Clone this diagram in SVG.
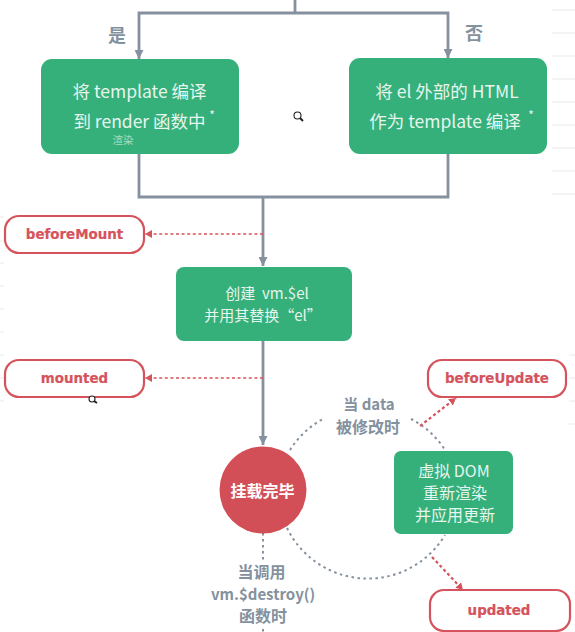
<svg xmlns="http://www.w3.org/2000/svg" width="575" height="632" viewBox="0 0 575 632">
<style>
text{font-family:"Noto Sans CJK SC","Noto Sans",sans-serif;text-anchor:middle}
.g{fill:#35b07a}
.gt{fill:#e6f5ee;font-size:17.500px}
.gm{fill:#e6f5ee;font-size:15px}
.gs{fill:#e6f5ee;font-size:16px}
.r{fill:#fff;stroke:#d5535c;stroke-width:2.2}
.rt{fill:#d5535c;font-family:"DejaVu Sans",sans-serif;font-weight:700;font-size:13.400px;stroke:#d5535c;stroke-width:.2}
.l{fill:#84919e;font-weight:700;font-size:15px}
.lc{fill:#84919e;font-weight:700;font-size:16px}
.c{fill:none;stroke:#85919e;stroke-width:2.800}
.d{fill:none;stroke:#85919e;stroke-width:2;stroke-dasharray:2.500 3.500}
.rd{fill:none;stroke:#d5535c;stroke-width:1.400;stroke-dasharray:3 2.600}
.rd2{fill:none;stroke:#d5535c;stroke-width:2.200;stroke-dasharray:3 2.600}
.grid{stroke:#e9e9e9;stroke-width:1}
.ic{fill:#fff;stroke:#222;stroke-width:1.100}
</style>
<defs>
<marker id="ag" markerUnits="userSpaceOnUse" markerWidth="10" markerHeight="9" refX="9" refY="4.500" orient="auto"><path d="M0 0L9 4.500L0 9z" fill="#85919e"/></marker>
<marker id="ar" markerUnits="userSpaceOnUse" markerWidth="8" markerHeight="8" refX="7" refY="4" orient="auto"><path d="M0 0L7 4L0 8z" fill="#d5535c"/></marker>
</defs>
<g id="grid" class="grid">
<path d="M552 10H575M552 33H575M552 56H575M552 79H575M552 102H575M552 125H575M552 148H575M552 171H575M552 194H575M0 217H4M0 241H4M0 263H4M0 286H4M0 309H4M0 332H4M0 355H4M0 378H4M0 401H4M569 355H575M569 378H575M569 401H575M569 424H575"/>
</g>
<g id="connectors">
<path class="c" d="M295 0V13"/>
<path class="c" d="M295 13H139V59" marker-end="url(#ag)"/>
<path class="c" d="M295 13H448V58" marker-end="url(#ag)"/>
<path class="c" d="M139 154V197H448V154"/>
<path class="c" d="M263 197V266" marker-end="url(#ag)"/>
<path class="c" d="M263 341V445" marker-end="url(#ag)"/>
<path class="rd" d="M263 234H145" marker-end="url(#ar)"/>
<path class="rd" d="M263 378H145" marker-end="url(#ar)"/>
<path class="d" d="M290 450A88 88 0 0 1 323 419"/>
<path class="d" d="M411 419A88 88 0 0 1 445 450"/>
<path class="d" d="M287 528A90 90 0 0 0 445 535"/>
<path class="d" d="M263 533V560M263 629V632"/>
<path class="rd2" d="M420 426L456 398" marker-end="url(#ar)"/>
<path class="rd2" d="M432 557L463 590" marker-end="url(#ar)"/>
</g>
<g id="yes"><text x="117" y="42" style="fill:#84919e;font-weight:700;font-size:18px">是</text></g>
<g id="no"><text x="474" y="40" style="fill:#84919e;font-weight:700;font-size:18px">否</text></g>
<g id="compile-render">
<rect class="g" x="41" y="59" width="198" height="95" rx="11"/>
<text class="gt" x="139.500" y="98">将 template 编译</text>
<text class="gt" x="139.500" y="128">到 render 函数中</text>
<text x="212" y="120" style="fill:#e6f5ee;font-size:12px">*</text>
<text x="123" y="144" style="fill:#a9dcc3;font-size:10.500px">渲染</text>
</g>
<g id="compile-html">
<rect class="g" x="349" y="58" width="198" height="96" rx="11"/>
<text class="gt" x="447" y="98">将 el 外部的 HTML</text>
<text class="gt" x="445" y="128">作为 template 编译</text>
<text x="531" y="120" style="fill:#e6f5ee;font-size:12px">*</text>
</g>
<g id="beforeMount"><rect class="r" x="5" y="216" width="139" height="37" rx="14"/><text class="rt" x="74.500" y="239">beforeMount</text></g>
<g id="create-el">
<rect class="g" x="176" y="267" width="176" height="74" rx="8"/>
<text class="gm" x="267" y="299">创建&#160;&#160;vm.$el</text>
<text class="gm" x="263" y="321">并用其替换“el”</text>
</g>
<g id="mounted"><rect class="r" x="5" y="360" width="139" height="37" rx="14"/><text class="rt" x="74.500" y="383">mounted</text></g>
<g id="beforeUpdate"><rect class="r" x="428" y="360" width="138" height="37" rx="14"/><text class="rt" x="497" y="383">beforeUpdate</text></g>
<g id="when-data">
<text class="l" x="369" y="410">当 data</text>
<text class="lc" x="368" y="433">被修改时</text>
</g>
<g id="mounted-circle">
<circle cx="263" cy="490" r="43.500" fill="#d34f57"/>
<text x="262.500" y="497" style="fill:#fff;font-weight:700;font-size:16px">挂载完毕</text>
</g>
<g id="vdom">
<rect class="g" x="394" y="451" width="119" height="83" rx="7"/>
<text class="gs" x="454" y="477">虚拟 DOM</text>
<text class="gs" x="455" y="499">重新渲染</text>
<text class="gs" x="455" y="521">并应用更新</text>
</g>
<g id="when-destroy">
<text class="lc" x="261.500" y="578">当调用</text>
<text class="l" x="263" y="600">vm.$destroy()</text>
<text class="lc" x="263" y="622">函数时</text>
</g>
<g id="updated"><rect class="r" x="430" y="590" width="140" height="41" rx="14"/><text class="rt" x="499" y="615">updated</text></g>
<g id="cursor1"><circle class="ic" cx="297.500" cy="115.500" r="3.500"/><path d="M300 118L303 121" stroke="#222" stroke-width="2"/></g>
<g id="cursor2"><circle class="ic" cx="92" cy="399" r="3"/><path d="M94 401L97 403" stroke="#222" stroke-width="2"/></g>
</svg>
